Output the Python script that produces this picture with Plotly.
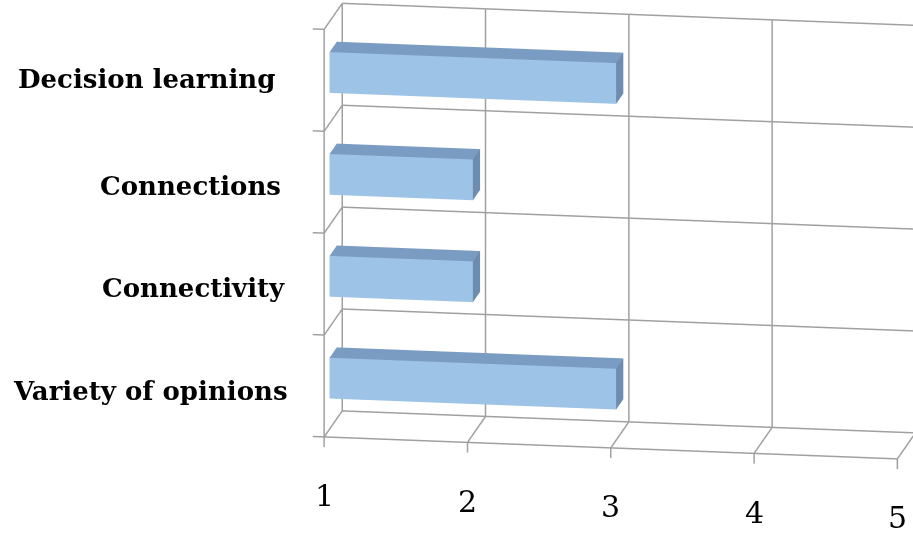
import plotly.graph_objects as go
import math

# ---- data ----
categories = ["Variety of opinions", "Connectivity", "Connections", "Decision learning"]
values = [3, 2, 2, 3]
x_ticks = [1, 2, 3, 4, 5]
axis_min, axis_max = 1, 5

# ---- style ----
BAR_W = 0.4   # bar thickness as fraction of a category band
BAR_D = 0.4   # bar depth as fraction of the floor depth
FRONT = "#9DC3E6"
TOP = "#7B9CC2"
SIDE = "#6D8DB0"
GRID = "#A0A0A0"
FONT = "DejaVu Serif"
label_xshift = [-34, -37, -41, -47]
label_yshift = [-5, -4, -4, 1]
n_cat = len(categories)
z_bounds = list(range(n_cat + 1))

# axis ranges (slightly padded so tick marks are not clipped)
XR = [axis_min - 0.12, axis_max + 0.02]
YR = [-0.01, 1.01]
ZR = [-0.12, n_cat + 0.02]
scale = 1.587
AR = dict(x=1.363 * scale * (XR[1] - XR[0]) / (axis_max - axis_min),
          y=0.263 * scale * (YR[1] - YR[0]),
          z=0.984 * scale * (ZR[1] - ZR[0]) / n_cat)

fig = go.Figure()

# ---- frame / gridlines (from tick values) ----
gx, gy, gz = [], [], []
def seg(p, q):
    gx.extend([p[0], q[0], None]); gy.extend([p[1], q[1], None]); gz.extend([p[2], q[2], None])
for t in x_ticks:
    seg((t, 1, 0), (t, 1, n_cat))          # back wall verticals
    seg((t, 0, 0), (t, 1, 0))              # floor depth lines
    seg((t, 0, 0), (t, 0, -0.1))           # tick marks
for zb in z_bounds:
    seg((axis_min, 1, zb), (axis_max, 1, zb))   # back wall horizontals
    seg((axis_min, 0, zb), (axis_min, 1, zb))   # left wall depth lines
    seg((axis_min, 0, zb), (axis_min - 0.08, 0, zb))  # tick marks
seg((axis_min, 0, 0), (axis_max, 0, 0))         # value axis line
seg((axis_min, 0, 0), (axis_min, 0, n_cat))     # category axis line
fig.add_trace(go.Scatter3d(x=gx, y=gy, z=gz, mode="lines",
                           line=dict(color=GRID, width=3), hoverinfo="skip",
                           connectgaps=False, showlegend=False))

# ---- bars ----
tri_i = [0, 0, 3, 3, 0, 0, 4, 4, 0, 0, 1, 1]
tri_j = [1, 5, 2, 6, 1, 2, 5, 6, 3, 7, 2, 6]
tri_k = [5, 4, 6, 7, 2, 3, 6, 7, 7, 4, 6, 5]
fcol = [FRONT, FRONT, FRONT, FRONT, TOP, TOP, TOP, TOP, SIDE, SIDE, SIDE, SIDE]
for idx, (cat, v) in enumerate(zip(categories, values)):
    z0, z1 = idx + 0.5 - BAR_W / 2, idx + 0.5 + BAR_W / 2
    y0, y1 = 0.5 - BAR_D / 2, 0.5 + BAR_D / 2
    x0, x1 = axis_min, v
    fig.add_trace(go.Mesh3d(
        x=[x0, x1, x1, x0, x0, x1, x1, x0],
        y=[y0, y0, y1, y1, y0, y0, y1, y1],
        z=[z0, z0, z0, z0, z1, z1, z1, z1],
        i=tri_i, j=tri_j, k=tri_k,
        facecolor=fcol, flatshading=True,
        lighting=dict(ambient=1.0, diffuse=0.0, specular=0.0, roughness=1.0, fresnel=0.0),
        hoverinfo="skip", showscale=False, name=cat,
    ))

# ---- camera (orthographic, looking from front-right-above) ----
def norm(p):
    out = []
    for val, rng, a in zip(p, (XR, YR, ZR), (AR["x"], AR["y"], AR["z"])):
        out.append((val - (rng[0] + rng[1]) / 2) / (rng[1] - rng[0]) * a)
    return out
bc = norm(((axis_min + axis_max) / 2, 0.5, n_cat / 2))
Q = (-0.5950, -0.1303, -0.1353)
cen = [bc[i] + Q[i] for i in range(3)]
d = (0.1565, -0.959, 0.235)
dn = math.sqrt(sum(c * c for c in d))
R = 1.5
center = dict(x=cen[0], y=cen[1], z=cen[2])
eye = dict(x=cen[0] + R * d[0] / dn, y=cen[1] + R * d[1] / dn, z=cen[2] + R * d[2] / dn)

annotations = []
for idx, cat in enumerate(categories):
    annotations.append(dict(x=axis_min, y=0, z=idx + 0.5, text="<b>%s</b>" % cat, showarrow=False,
                            xanchor="right", yanchor="middle",
                            xshift=label_xshift[idx], yshift=label_yshift[idx],
                            font=dict(family=FONT, size=26, color="black")))
for t in x_ticks:
    annotations.append(dict(x=t, y=0, z=0, text=str(t), showarrow=False,
                            xanchor="center", yanchor="middle", yshift=-59,
                            font=dict(family=FONT, size=30, color="black")))

hidden = dict(visible=False, showbackground=False, showspikes=False)
fig.update_layout(
    width=913, height=537,
    margin=dict(l=0, r=0, t=0, b=0),
    paper_bgcolor="white",
    showlegend=False,
    scene=dict(
        domain=dict(x=[0, 1], y=[0, 1]),
        aspectmode="manual",
        aspectratio=AR,
        xaxis=dict(range=XR, **hidden),
        yaxis=dict(range=YR, **hidden),
        zaxis=dict(range=ZR, **hidden),
        camera=dict(eye=eye, center=center, up=dict(x=0, y=0, z=1),
                    projection=dict(type="orthographic")),
        annotations=annotations,
        dragmode=False,
    ),
)

fig.write_html("out.html", config={"displayModeBar": False})
